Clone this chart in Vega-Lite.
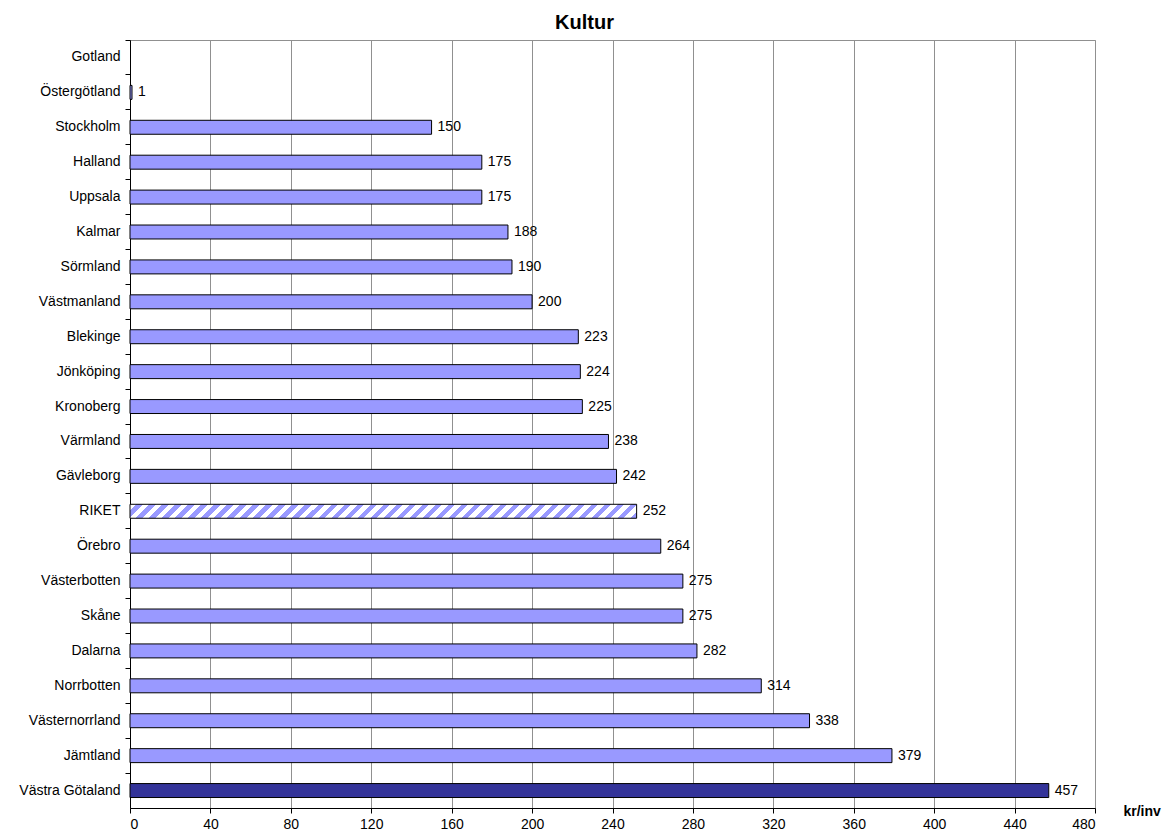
{
  "$schema": "https://vega.github.io/schema/vega-lite/v6.json",
  "width": 965,
  "height": 768,
  "autosize": "none",
  "padding": {"left": 130, "top": 40, "right": 73, "bottom": 26},
  "background": "white",
  "config": {
    "font": "Liberation Sans",
    "view": {"stroke": "#909090", "strokeWidth": 1}
  },
  "title": {
    "text": "Kultur",
    "font": "Liberation Sans",
    "fontSize": 20,
    "fontWeight": "bold",
    "color": "black",
    "anchor": "middle",
    "baseline": "alphabetic",
    "dx": -28,
    "dy": 20,
    "offset": 11
  },
  "data": {
    "values": [
      {"lan": "Gotland", "kr": null, "typ": "län"},
      {"lan": "Östergötland", "kr": 1, "typ": "län"},
      {"lan": "Stockholm", "kr": 150, "typ": "län"},
      {"lan": "Halland", "kr": 175, "typ": "län"},
      {"lan": "Uppsala", "kr": 175, "typ": "län"},
      {"lan": "Kalmar", "kr": 188, "typ": "län"},
      {"lan": "Sörmland", "kr": 190, "typ": "län"},
      {"lan": "Västmanland", "kr": 200, "typ": "län"},
      {"lan": "Blekinge", "kr": 223, "typ": "län"},
      {"lan": "Jönköping", "kr": 224, "typ": "län"},
      {"lan": "Kronoberg", "kr": 225, "typ": "län"},
      {"lan": "Värmland", "kr": 238, "typ": "län"},
      {"lan": "Gävleborg", "kr": 242, "typ": "län"},
      {"lan": "RIKET", "kr": 252, "typ": "riket"},
      {"lan": "Örebro", "kr": 264, "typ": "län"},
      {"lan": "Västerbotten", "kr": 275, "typ": "län"},
      {"lan": "Skåne", "kr": 275, "typ": "län"},
      {"lan": "Dalarna", "kr": 282, "typ": "län"},
      {"lan": "Norrbotten", "kr": 314, "typ": "län"},
      {"lan": "Västernorrland", "kr": 338, "typ": "län"},
      {"lan": "Jämtland", "kr": 379, "typ": "län"},
      {"lan": "Västra Götaland", "kr": 457, "typ": "högst"}
    ]
  },
  "encoding": {
    "y": {
      "field": "lan",
      "type": "nominal",
      "sort": null,
      "scale": {
        "domain": ["Gotland", "Östergötland", "Stockholm", "Halland", "Uppsala", "Kalmar", "Sörmland", "Västmanland", "Blekinge", "Jönköping", "Kronoberg", "Värmland", "Gävleborg", "RIKET", "Örebro", "Västerbotten", "Skåne", "Dalarna", "Norrbotten", "Västernorrland", "Jämtland", "Västra Götaland"],
        "paddingInner": 0,
        "paddingOuter": 0
      },
      "axis": {
        "title": null,
        "bandPosition": 0,
        "tickSize": 5,
        "tickColor": "black",
        "domainColor": "black",
        "labelPadding": 5,
        "labelFont": "Liberation Sans",
        "labelFontSize": 14,
        "labelColor": "black",
        "grid": false
      }
    },
    "x": {
      "field": "kr",
      "type": "quantitative",
      "scale": {"domain": [0, 480], "nice": false, "zero": true},
      "axis": {
        "values": [0, 40, 80, 120, 160, 200, 240, 280, 320, 360, 400, 440, 480],
        "grid": true,
        "gridColor": "#909090",
        "gridWidth": 1,
        "tickSize": 5,
        "tickColor": "black",
        "domainColor": "black",
        "labelFont": "Liberation Sans",
        "labelFontSize": 14,
        "labelColor": "black",
        "labelPadding": 4,
        "title": "kr/inv",
        "titleFont": "Liberation Sans",
        "titleFontSize": 14,
        "titleFontWeight": "bold",
        "titleColor": "black",
        "titleAlign": "left",
        "titleBaseline": "alphabetic",
        "titleX": 993,
        "titleY": 7
      }
    }
  },
  "layer": [
    {
      "transform": [{"filter": "isValid(datum.kr) && datum.typ !== 'riket'"}],
      "mark": {"type": "bar", "stroke": "black", "strokeWidth": 1, "height": {"band": 0.4}},
      "encoding": {
        "color": {
          "field": "typ",
          "type": "nominal",
          "scale": {"domain": ["län", "högst"], "range": ["#9999ff", "#333399"]},
          "legend": null
        }
      }
    },
    {
      "transform": [{"filter": "datum.typ === 'riket'"}],
      "mark": {
        "type": "bar",
        "stroke": "black",
        "strokeWidth": 1,
        "height": {"band": 0.4},
        "fill": {
          "gradient": "linear",
          "x1": 0, "y1": 0, "x2": 1.0268, "y2": 0.02834,
          "stops": [
            {"offset": 0, "color": "#fff"},
            {"offset": 0.0125, "color": "#fff"}, {"offset": 0.0125, "color": "#99f"},
            {"offset": 0.025, "color": "#99f"}, {"offset": 0.025, "color": "#fff"},
            {"offset": 0.0375, "color": "#fff"}, {"offset": 0.0375, "color": "#99f"},
            {"offset": 0.05, "color": "#99f"}, {"offset": 0.05, "color": "#fff"},
            {"offset": 0.0625, "color": "#fff"}, {"offset": 0.0625, "color": "#99f"},
            {"offset": 0.075, "color": "#99f"}, {"offset": 0.075, "color": "#fff"},
            {"offset": 0.0875, "color": "#fff"}, {"offset": 0.0875, "color": "#99f"},
            {"offset": 0.1, "color": "#99f"}, {"offset": 0.1, "color": "#fff"},
            {"offset": 0.1125, "color": "#fff"}, {"offset": 0.1125, "color": "#99f"},
            {"offset": 0.125, "color": "#99f"}, {"offset": 0.125, "color": "#fff"},
            {"offset": 0.1375, "color": "#fff"}, {"offset": 0.1375, "color": "#99f"},
            {"offset": 0.15, "color": "#99f"}, {"offset": 0.15, "color": "#fff"},
            {"offset": 0.1625, "color": "#fff"}, {"offset": 0.1625, "color": "#99f"},
            {"offset": 0.175, "color": "#99f"}, {"offset": 0.175, "color": "#fff"},
            {"offset": 0.1875, "color": "#fff"}, {"offset": 0.1875, "color": "#99f"},
            {"offset": 0.2, "color": "#99f"}, {"offset": 0.2, "color": "#fff"},
            {"offset": 0.2125, "color": "#fff"}, {"offset": 0.2125, "color": "#99f"},
            {"offset": 0.225, "color": "#99f"}, {"offset": 0.225, "color": "#fff"},
            {"offset": 0.2375, "color": "#fff"}, {"offset": 0.2375, "color": "#99f"},
            {"offset": 0.25, "color": "#99f"}, {"offset": 0.25, "color": "#fff"},
            {"offset": 0.2625, "color": "#fff"}, {"offset": 0.2625, "color": "#99f"},
            {"offset": 0.275, "color": "#99f"}, {"offset": 0.275, "color": "#fff"},
            {"offset": 0.2875, "color": "#fff"}, {"offset": 0.2875, "color": "#99f"},
            {"offset": 0.3, "color": "#99f"}, {"offset": 0.3, "color": "#fff"},
            {"offset": 0.3125, "color": "#fff"}, {"offset": 0.3125, "color": "#99f"},
            {"offset": 0.325, "color": "#99f"}, {"offset": 0.325, "color": "#fff"},
            {"offset": 0.3375, "color": "#fff"}, {"offset": 0.3375, "color": "#99f"},
            {"offset": 0.35, "color": "#99f"}, {"offset": 0.35, "color": "#fff"},
            {"offset": 0.3625, "color": "#fff"}, {"offset": 0.3625, "color": "#99f"},
            {"offset": 0.375, "color": "#99f"}, {"offset": 0.375, "color": "#fff"},
            {"offset": 0.3875, "color": "#fff"}, {"offset": 0.3875, "color": "#99f"},
            {"offset": 0.4, "color": "#99f"}, {"offset": 0.4, "color": "#fff"},
            {"offset": 0.4125, "color": "#fff"}, {"offset": 0.4125, "color": "#99f"},
            {"offset": 0.425, "color": "#99f"}, {"offset": 0.425, "color": "#fff"},
            {"offset": 0.4375, "color": "#fff"}, {"offset": 0.4375, "color": "#99f"},
            {"offset": 0.45, "color": "#99f"}, {"offset": 0.45, "color": "#fff"},
            {"offset": 0.4625, "color": "#fff"}, {"offset": 0.4625, "color": "#99f"},
            {"offset": 0.475, "color": "#99f"}, {"offset": 0.475, "color": "#fff"},
            {"offset": 0.4875, "color": "#fff"}, {"offset": 0.4875, "color": "#99f"},
            {"offset": 0.5, "color": "#99f"}, {"offset": 0.5, "color": "#fff"},
            {"offset": 0.5125, "color": "#fff"}, {"offset": 0.5125, "color": "#99f"},
            {"offset": 0.525, "color": "#99f"}, {"offset": 0.525, "color": "#fff"},
            {"offset": 0.5375, "color": "#fff"}, {"offset": 0.5375, "color": "#99f"},
            {"offset": 0.55, "color": "#99f"}, {"offset": 0.55, "color": "#fff"},
            {"offset": 0.5625, "color": "#fff"}, {"offset": 0.5625, "color": "#99f"},
            {"offset": 0.575, "color": "#99f"}, {"offset": 0.575, "color": "#fff"},
            {"offset": 0.5875, "color": "#fff"}, {"offset": 0.5875, "color": "#99f"},
            {"offset": 0.6, "color": "#99f"}, {"offset": 0.6, "color": "#fff"},
            {"offset": 0.6125, "color": "#fff"}, {"offset": 0.6125, "color": "#99f"},
            {"offset": 0.625, "color": "#99f"}, {"offset": 0.625, "color": "#fff"},
            {"offset": 0.6375, "color": "#fff"}, {"offset": 0.6375, "color": "#99f"},
            {"offset": 0.65, "color": "#99f"}, {"offset": 0.65, "color": "#fff"},
            {"offset": 0.6625, "color": "#fff"}, {"offset": 0.6625, "color": "#99f"},
            {"offset": 0.675, "color": "#99f"}, {"offset": 0.675, "color": "#fff"},
            {"offset": 0.6875, "color": "#fff"}, {"offset": 0.6875, "color": "#99f"},
            {"offset": 0.7, "color": "#99f"}, {"offset": 0.7, "color": "#fff"},
            {"offset": 0.7125, "color": "#fff"}, {"offset": 0.7125, "color": "#99f"},
            {"offset": 0.725, "color": "#99f"}, {"offset": 0.725, "color": "#fff"},
            {"offset": 0.7375, "color": "#fff"}, {"offset": 0.7375, "color": "#99f"},
            {"offset": 0.75, "color": "#99f"}, {"offset": 0.75, "color": "#fff"},
            {"offset": 0.7625, "color": "#fff"}, {"offset": 0.7625, "color": "#99f"},
            {"offset": 0.775, "color": "#99f"}, {"offset": 0.775, "color": "#fff"},
            {"offset": 0.7875, "color": "#fff"}, {"offset": 0.7875, "color": "#99f"},
            {"offset": 0.8, "color": "#99f"}, {"offset": 0.8, "color": "#fff"},
            {"offset": 0.8125, "color": "#fff"}, {"offset": 0.8125, "color": "#99f"},
            {"offset": 0.825, "color": "#99f"}, {"offset": 0.825, "color": "#fff"},
            {"offset": 0.8375, "color": "#fff"}, {"offset": 0.8375, "color": "#99f"},
            {"offset": 0.85, "color": "#99f"}, {"offset": 0.85, "color": "#fff"},
            {"offset": 0.8625, "color": "#fff"}, {"offset": 0.8625, "color": "#99f"},
            {"offset": 0.875, "color": "#99f"}, {"offset": 0.875, "color": "#fff"},
            {"offset": 0.8875, "color": "#fff"}, {"offset": 0.8875, "color": "#99f"},
            {"offset": 0.9, "color": "#99f"}, {"offset": 0.9, "color": "#fff"},
            {"offset": 0.9125, "color": "#fff"}, {"offset": 0.9125, "color": "#99f"},
            {"offset": 0.925, "color": "#99f"}, {"offset": 0.925, "color": "#fff"},
            {"offset": 0.9375, "color": "#fff"}, {"offset": 0.9375, "color": "#99f"},
            {"offset": 0.95, "color": "#99f"}, {"offset": 0.95, "color": "#fff"},
            {"offset": 0.9625, "color": "#fff"}, {"offset": 0.9625, "color": "#99f"},
            {"offset": 0.975, "color": "#99f"}, {"offset": 0.975, "color": "#fff"},
            {"offset": 0.9875, "color": "#fff"}, {"offset": 0.9875, "color": "#99f"},
            {"offset": 1, "color": "#99f"}
          ]
        }
      }
    },
    {
      "transform": [{"filter": "isValid(datum.kr)"}],
      "mark": {
        "type": "text",
        "align": "left",
        "baseline": "middle",
        "dx": 6,
        "font": "Liberation Sans",
        "fontSize": 14,
        "color": "black"
      },
      "encoding": {
        "text": {"field": "kr", "type": "quantitative"}
      }
    }
  ]
}
